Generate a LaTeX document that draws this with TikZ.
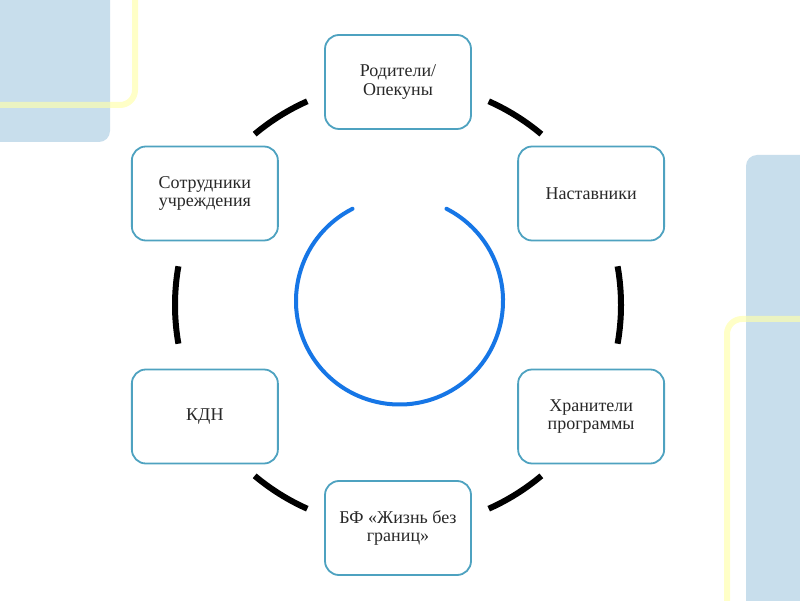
\documentclass[tikz,border=0pt]{standalone}
\usepackage{fontspec}
\setmainfont{Liberation Serif}
\usetikzlibrary{calc}
\definecolor{bgblue}{RGB}{200,222,236}
\definecolor{yel}{RGB}{255,255,170}
\definecolor{boxc}{RGB}{78,162,192}
\definecolor{txtc}{RGB}{40,40,40}
\definecolor{ringc}{RGB}{22,118,230}
\begin{document}
\begin{tikzpicture}[x=1pt,y=1pt,
  bgrect/.style={fill=bgblue,draw=none,rounded corners=11pt},
  yline/.style={draw=yel,line width=6pt,opacity=0.65,rounded corners=15pt},
  member/.style={draw=boxc,line width=1.8pt,fill=white,rounded corners=14pt,
     minimum width=146pt,minimum height=94pt,text width=136pt,align=flush center,
     text=txtc,font=\fontsize{18}{18.5}\selectfont,inner sep=0pt},
  link/.style={draw=black,line width=6pt},
  ring/.style={draw=ringc,line width=4pt,line cap=round}]
\useasboundingbox (0,0) rectangle (800,600);
\fill[white] (0,0) rectangle (800,600);
% background decoration
\fill[bgrect] (-20,458) rectangle (110,620);
\fill[bgrect] (746,-20) rectangle (820,445);
\draw[yline] (-10,495) -- (135,495) -- (135,610);
\draw[yline] (810,281) -- (727,281) -- (727,-10);
% centre
\coordinate (c) at (398,295);
\coordinate (rc) at (399.5,299);
% ring
\draw[ring] ([shift={(117:103.5)}]rc) arc (117:423:103.5);
% boxes
\node[member] (parents) at ([shift={(90:223)}]c) {Родители/\\Опекуны};
\node[member] (mentors) at ([shift={(30:223)}]c) {Наставники};
\node[member] (keepers) at ([shift={(-30:223)}]c) {Хранители\\программы};
\node[member] (fund) at ([shift={(-90:223)}]c) {БФ «Жизнь без\\границ»};
\node[member] (kdn) at ([shift={(210:223)}]c) {КДН};
\node[member] (staff) at ([shift={(150:223)}]c) {Сотрудники\\учреждения};
% links (arcs between boxes)
\draw[link] ([shift={(50:223)}]c) arc (50:66:223);
\draw[link] ([shift={(-10:223)}]c) arc (-10:10:223);
\draw[link] ([shift={(294:223)}]c) arc (294:310:223);
\draw[link] ([shift={(230:223)}]c) arc (230:246:223);
\draw[link] ([shift={(170:223)}]c) arc (170:190:223);
\draw[link] ([shift={(114:223)}]c) arc (114:130:223);
\end{tikzpicture}
\end{document}
